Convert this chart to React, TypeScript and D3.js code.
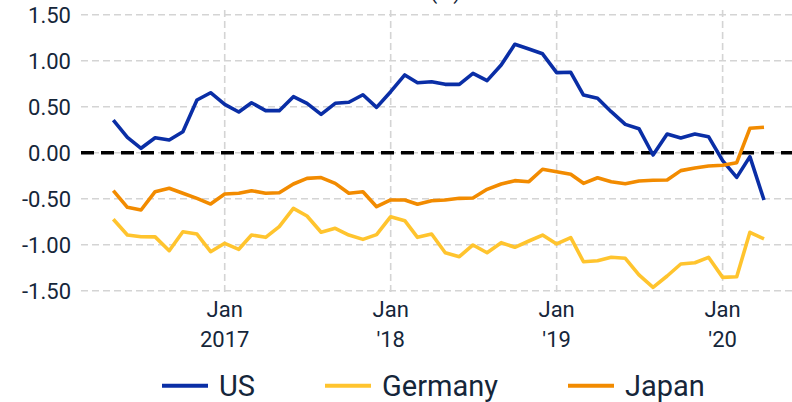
import React from "react";
import * as d3 from "d3";

const startMonth = new Date(2016, 4, 1);
const endMonth = new Date(2020, 4, 1);
const months = d3.timeMonth.range(startMonth, endMonth);

const usValues = [
  0.355, 0.167, 0.048, 0.163, 0.138, 0.228, 0.573, 0.652,
  0.526, 0.442, 0.543, 0.457, 0.457, 0.609, 0.537, 0.417,
  0.537, 0.548, 0.63, 0.493, 0.663, 0.845, 0.761, 0.772,
  0.743, 0.743, 0.863, 0.783, 0.953, 1.178, 1.127, 1.075,
  0.87, 0.874, 0.627, 0.591, 0.446, 0.308, 0.261, -0.025,
  0.203, 0.16, 0.203, 0.174, -0.087, -0.268, -0.043, -0.514,
];

const germanyValues = [
  -0.724, -0.895, -0.913, -0.915, -1.065, -0.859, -0.884, -1.076,
  -0.985, -1.05, -0.895, -0.92, -0.804, -0.605, -0.688, -0.865,
  -0.822, -0.895, -0.942, -0.891, -0.696, -0.739, -0.92, -0.884,
  -1.087, -1.13, -1.003, -1.087, -0.978, -1.028, -0.96, -0.895,
  -0.992, -0.924, -1.185, -1.174, -1.137, -1.148, -1.329, -1.463,
  -1.34, -1.21, -1.196, -1.137, -1.355, -1.348, -0.865, -0.938,
];

const japanValues = [
  -0.413, -0.594, -0.623, -0.424, -0.387, -0.441, -0.496, -0.558,
  -0.449, -0.441, -0.413, -0.441, -0.435, -0.34, -0.279, -0.27,
  -0.333, -0.441, -0.424, -0.587, -0.514, -0.514, -0.561, -0.522,
  -0.514, -0.496, -0.493, -0.398, -0.34, -0.304, -0.315, -0.18,
  -0.206, -0.235, -0.333, -0.272, -0.315, -0.337, -0.308, -0.3,
  -0.297, -0.195, -0.166, -0.145, -0.137, -0.109, 0.265, 0.276,
];

const seriesNames = ["US", "Germany", "Japan"];
const seriesColors = ["#0a2ea6", "#ffc42e", "#f28b00"];
const yTicks = [1.5, 1.0, 0.5, 0.0, -0.5, -1.0, -1.5];
const xTickDates = [new Date(2017, 0, 1), new Date(2018, 0, 1), new Date(2019, 0, 1), new Date(2020, 0, 1)];
const xTickLine1 = ["Jan", "Jan", "Jan", "Jan"];
const xTickLine2 = ["2017", "'18", "'19", "'20"];
const titleText = "Real rates (%)";

const W = 792;
const H = 402;
const FONT = "Roboto, 'Noto Sans', sans-serif";
const TEXT = "#15263a";

export default function App() {
  const x = d3.scaleTime().domain([startMonth, new Date(2020, 3, 1)]).range([113.3, 764]);
  const y = d3.scaleLinear().domain([-1.5, 1.5]).range([290.7, 14.7]);
  const fmt = d3.formatLocale({ decimal: ".", thousands: ",", grouping: [3], currency: ["$", ""], minus: "-" }).format(".2f");

  const allSeries = [usValues, germanyValues, japanValues];
  const line = d3
    .line<number>()
    .x((_, i) => x(months[i]))
    .y((d) => y(d));

  const plotLeft = 81;
  const plotRight = W;

  const legendX = [162, 325, 568];

  return (
    <div style={{ position: "absolute", left: 0, top: 0 }}>
      <svg width={W} height={H} style={{ display: "block" }}>
        <rect x={0} y={0} width={W} height={H} fill="#ffffff" />
        <text x={461} y={-1.5} textAnchor="end" fontFamily={FONT} fontSize={22} fill={TEXT}>
          {titleText}
        </text>
        {/* horizontal grid */}
        {yTicks.map((t) => (
          <line
            key={"hg" + t}
            x1={plotLeft}
            x2={plotRight}
            y1={y(t)}
            y2={y(t)}
            stroke="#d4d4d4"
            strokeWidth={1.6}
            strokeDasharray="7,4"
          />
        ))}
        {/* vertical grid */}
        {xTickDates.map((d, i) => (
          <line
            key={"vg" + i}
            x1={x(d)}
            x2={x(d)}
            y1={10}
            y2={294}
            stroke="#d4d4d4"
            strokeWidth={1.6}
            strokeDasharray="7,4"
          />
        ))}
        {/* y labels */}
        {yTicks.map((t) => (
          <text
            key={"yl" + t}
            x={71}
            y={y(t) + 8}
            textAnchor="end"
            fontFamily={FONT}
            fontSize={22}
            fill={TEXT}
          >
            {fmt(t)}
          </text>
        ))}
        {/* x labels */}
        {xTickDates.map((d, i) => (
          <g key={"xl" + i}>
            <text x={x(d)} y={317} textAnchor="middle" fontFamily={FONT} fontSize={22} fill={TEXT}>
              {xTickLine1[i]}
            </text>
            <text x={x(d)} y={347} textAnchor="middle" fontFamily={FONT} fontSize={22} fill={TEXT}>
              {xTickLine2[i]}
            </text>
          </g>
        ))}
        {/* zero line */}
        <line
          x1={plotLeft}
          x2={plotRight}
          y1={y(0)}
          y2={y(0)}
          stroke="#000000"
          strokeWidth={3.5}
          strokeDasharray="13,7"
        />
        {/* series */}
        {allSeries.map((vals, si) => (
          <path
            key={"s" + si}
            d={line(vals) || ""}
            fill="none"
            stroke={seriesColors[si]}
            strokeWidth={3.6}
            strokeLinejoin="round"
          />
        ))}
        {/* legend */}
        {seriesNames.map((n, i) => (
          <g key={"lg" + i}>
            <line
              x1={legendX[i]}
              x2={legendX[i] + 46}
              y1={385.7}
              y2={385.7}
              stroke={seriesColors[i]}
              strokeWidth={4}
            />
            <text x={legendX[i] + 57} y={395.5} fontFamily={FONT} fontSize={29} fill={TEXT}>
              {n}
            </text>
          </g>
        ))}
      </svg>
    </div>
  );
}
